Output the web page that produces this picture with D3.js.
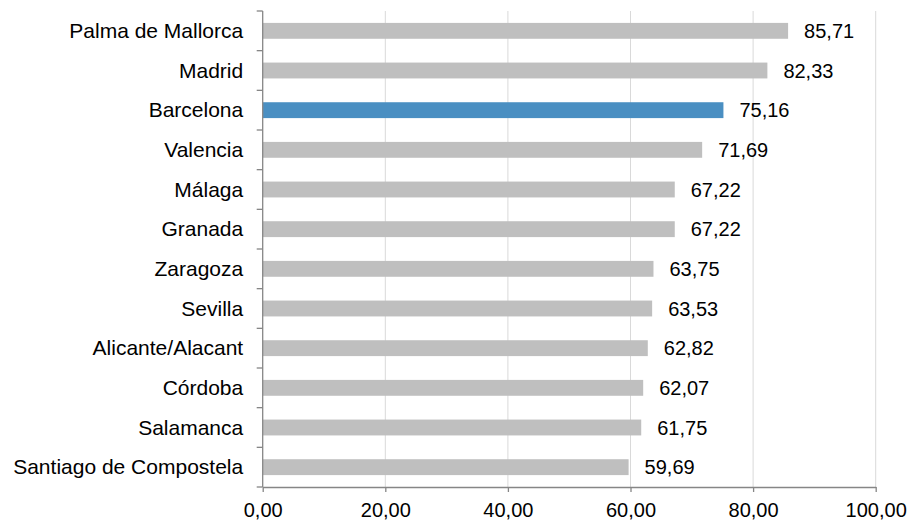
<!DOCTYPE html>
<html>
<head>
<meta charset="utf-8">
<script src="https://cdn.jsdelivr.net/npm/d3@7"></script>
<style>
  body { margin: 0; background: #fff; }
  svg { display: block; font-family: "Liberation Sans", Arial, sans-serif; }
</style>
</head>
<body>
<div class="main"></div>
<script>
// data
let cities = ["Palma de Mallorca", "Madrid", "Barcelona", "Valencia", "Málaga", "Granada",
              "Zaragoza", "Sevilla", "Alicante/Alacant", "Córdoba", "Salamanca", "Santiago de Compostela"];
let values = [85.71, 82.33, 75.16, 71.69, 67.22, 67.22, 63.75, 63.53, 62.82, 62.07, 61.75, 59.69];
let highlight = "Barcelona";
let xTicks = [0, 20, 40, 60, 80, 100];

(function() {
  let width = 911,
      height = 522;

  let svg = d3.select("div.main").append("svg")
    .attr("width", width)
    .attr("height", height);

  let plotLeft = 262.7, plotRight = 875.7, plotTop = 11, plotBottom = 487;

  let x = d3.scaleLinear()
    .domain([0, 100])
    .range([plotLeft, plotRight]);

  let y = d3.scaleBand()
    .domain(cities)
    .range([plotTop, plotBottom])
    .paddingInner(0.6)
    .paddingOuter(0.3);

  let fmt = function(v) { return d3.format(".2f")(v).replace(".", ","); };

  // gridlines
  svg.append("g").selectAll("line")
    .data(xTicks.filter(d => d > 0))
    .enter().append("line")
    .attr("x1", d => x(d)).attr("x2", d => x(d))
    .attr("y1", plotTop).attr("y2", plotBottom)
    .attr("stroke", "#d9d9d9")
    .attr("stroke-width", 1);

  // bars
  svg.append("g").selectAll("rect")
    .data(cities)
    .enter().append("rect")
    .attr("x", x(0))
    .attr("y", d => y(d))
    .attr("width", (d, i) => x(values[i]) - x(0))
    .attr("height", y.bandwidth())
    .attr("fill", d => d == highlight ? "#4a8fc2" : "#bfbfbf");

  // value labels
  svg.append("g").selectAll("text")
    .data(cities)
    .enter().append("text")
    .attr("x", (d, i) => x(values[i]) + 16)
    .attr("y", d => y(d) + y.bandwidth() / 2 + 7)
    .attr("font-size", "20px")
    .attr("fill", "#000")
    .text((d, i) => fmt(values[i]));

  // category labels
  svg.append("g").selectAll("text")
    .data(cities)
    .enter().append("text")
    .attr("x", plotLeft - 19.5)
    .attr("y", d => y(d) + y.bandwidth() / 2 + 7)
    .attr("text-anchor", "end")
    .attr("font-size", "21px")
    .attr("fill", "#000")
    .text(d => d);

  // y axis line + ticks between categories
  let axisColor = "#868686";
  svg.append("line")
    .attr("x1", plotLeft).attr("x2", plotLeft)
    .attr("y1", plotTop).attr("y2", plotBottom)
    .attr("stroke", axisColor).attr("stroke-width", 1.3);

  let bounds = d3.range(cities.length + 1).map(i => plotTop + i * y.step());
  svg.append("g").selectAll("line")
    .data(bounds)
    .enter().append("line")
    .attr("x1", plotLeft - 6).attr("x2", plotLeft)
    .attr("y1", d => d).attr("y2", d => d)
    .attr("stroke", axisColor).attr("stroke-width", 1.3);

  // x axis
  let xAxis = d3.axisBottom(x)
    .tickValues(xTicks)
    .tickSize(5)
    .tickSizeOuter(0)
    .tickPadding(11)
    .tickFormat(fmt);

  let gx = svg.append("g")
    .attr("transform", "translate(0," + plotBottom + ")")
    .call(xAxis);

  gx.select(".domain").attr("stroke", axisColor).attr("stroke-width", 1.3);
  gx.selectAll(".tick line").attr("stroke", axisColor).attr("stroke-width", 1.3);
  gx.selectAll(".tick text")
    .attr("font-size", "20px")
    .attr("font-family", "Liberation Sans, Arial, sans-serif")
    .attr("fill", "#000");
})();
</script>
</body>
</html>
